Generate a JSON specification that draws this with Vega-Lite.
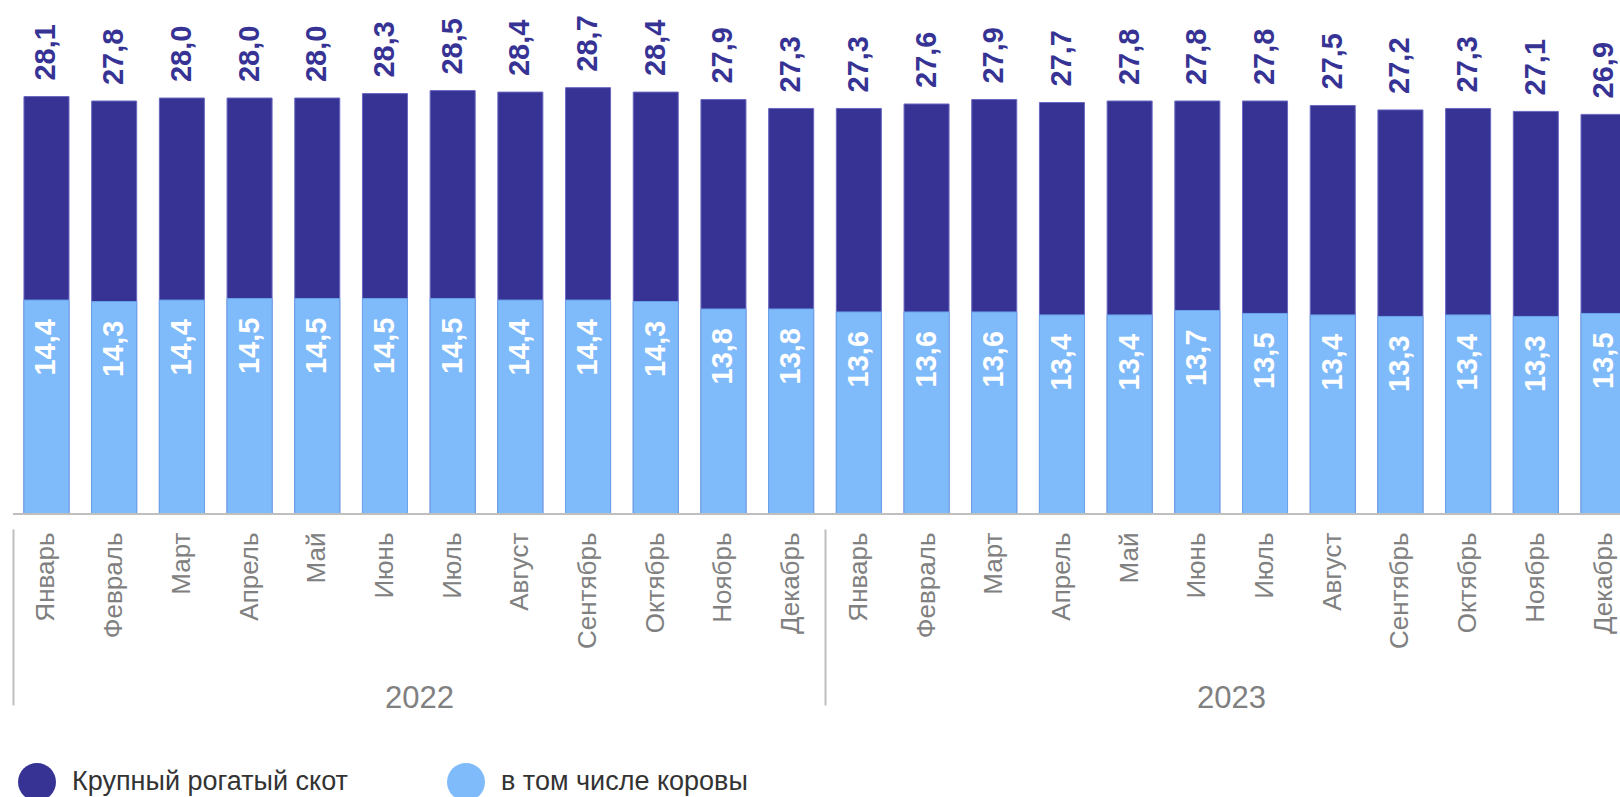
{
  "$schema": "https://vega.github.io/schema/vega-lite/v6.json",
  "width": 1607,
  "height": 514,
  "autosize": {"type": "none"},
  "padding": {"left": 13, "top": 0, "right": 0, "bottom": 283},
  "config": {
    "view": {"stroke": null},
    "font": "Liberation Sans",
    "locale": {"number": {"decimal": ",", "thousands": " ", "grouping": [3], "currency": ["", ""]}}
  },
  "data": {
    "values": [
      {"m": "2022-01", "total": 28.1, "cows": 14.4},
      {"m": "2022-02", "total": 27.8, "cows": 14.3},
      {"m": "2022-03", "total": 28.0, "cows": 14.4},
      {"m": "2022-04", "total": 28.0, "cows": 14.5},
      {"m": "2022-05", "total": 28.0, "cows": 14.5},
      {"m": "2022-06", "total": 28.3, "cows": 14.5},
      {"m": "2022-07", "total": 28.5, "cows": 14.5},
      {"m": "2022-08", "total": 28.4, "cows": 14.4},
      {"m": "2022-09", "total": 28.7, "cows": 14.4},
      {"m": "2022-10", "total": 28.4, "cows": 14.3},
      {"m": "2022-11", "total": 27.9, "cows": 13.8},
      {"m": "2022-12", "total": 27.3, "cows": 13.8},
      {"m": "2023-01", "total": 27.3, "cows": 13.6},
      {"m": "2023-02", "total": 27.6, "cows": 13.6},
      {"m": "2023-03", "total": 27.9, "cows": 13.6},
      {"m": "2023-04", "total": 27.7, "cows": 13.4},
      {"m": "2023-05", "total": 27.8, "cows": 13.4},
      {"m": "2023-06", "total": 27.8, "cows": 13.7},
      {"m": "2023-07", "total": 27.8, "cows": 13.5},
      {"m": "2023-08", "total": 27.5, "cows": 13.4},
      {"m": "2023-09", "total": 27.2, "cows": 13.3},
      {"m": "2023-10", "total": 27.3, "cows": 13.4},
      {"m": "2023-11", "total": 27.1, "cows": 13.3},
      {"m": "2023-12", "total": 26.9, "cows": 13.5}
    ]
  },
  "resolve": {"scale": {"x": "independent"}, "axis": {"x": "independent"}},
  "layer": [
    {
      "encoding": {
        "x": {
          "field": "m",
          "type": "ordinal",
          "sort": null,
          "scale": {"type": "band", "range": [0, 1624], "paddingInner": 0.335, "paddingOuter": 0.162},
          "axis": {
            "orient": "bottom",
            "title": null,
            "domain": false,
            "ticks": false,
            "labelAngle": 270,
            "labelAlign": "right",
            "labelBaseline": "middle",
            "labelPadding": 18,
            "labelFontSize": 26,
            "labelColor": "#808080",
            "labelOverlap": false,
            "labelExpr": "['Январь','Февраль','Март','Апрель','Май','Июнь','Июль','Август','Сентябрь','Октябрь','Ноябрь','Декабрь'][toNumber(substring(datum.label,5,7))-1]"
          }
        }
      },
      "layer": [
        {
          "transform": [{"fold": ["total", "cows"], "as": ["series", "value"]}],
          "mark": {"type": "bar", "strokeWidth": 1},
          "encoding": {
            "y": {"field": "value", "type": "quantitative", "stack": null, "scale": {"domain": [0, 34.6], "nice": false, "zero": true}, "axis": null},
            "color": {
              "field": "series",
              "type": "nominal",
              "scale": {"domain": ["total", "cows"], "range": ["#363395", "#7FBAFA"]},
              "legend": {
                "orient": "none",
                "legendX": 5,
                "legendY": 763,
                "direction": "horizontal",
                "title": null,
                "symbolType": "circle",
                "symbolSize": 1444,
                "symbolStrokeWidth": 0,
                "symbolOpacity": 1,
                "labelFontSize": 27,
                "labelColor": "#333333",
                "labelLimit": 600,
                "labelOffset": 16,
                "columnPadding": 99,
                "labelExpr": "datum.label == 'total' ? 'Крупный рогатый скот' : 'в том числе коровы'"
              }
            },
            "stroke": {
              "field": "series",
              "type": "nominal",
              "scale": {"domain": ["total", "cows"], "range": ["#6968c0", "#6aa4ec"]},
              "legend": null
            }
          }
        },
        {
          "mark": {"type": "text", "angle": 270, "align": "left", "baseline": "middle", "dx": 16, "fontSize": 29, "fontWeight": "bold", "color": "#363395"},
          "encoding": {
            "y": {"field": "total", "type": "quantitative"},
            "text": {"field": "total", "type": "quantitative", "format": ".1f"}
          }
        },
        {
          "mark": {"type": "text", "angle": 270, "align": "right", "baseline": "middle", "dx": -19, "fontSize": 29, "fontWeight": "bold", "color": "#FFFFFF"},
          "encoding": {
            "y": {"field": "cows", "type": "quantitative"},
            "text": {"field": "cows", "type": "quantitative", "format": ".1f"}
          }
        }
      ]
    },
    {
      "data": {"values": [{"year": "2022"}, {"year": "2023"}]},
      "mark": {"type": "bar", "fillOpacity": 0, "stroke": "#BFBFBF", "strokeWidth": 2},
      "encoding": {
        "x": {
          "field": "year",
          "type": "ordinal",
          "scale": {"type": "band", "range": [0, 1624], "paddingInner": 0, "paddingOuter": 0},
          "axis": {
            "orient": "bottom",
            "offset": 15,
            "title": null,
            "domain": false,
            "ticks": true,
            "tickBand": "extent",
            "tickSize": 176,
            "tickColor": "#BFBFBF",
            "tickWidth": 2,
            "labelAngle": 0,
            "labelFontSize": 31,
            "labelColor": "#808080",
            "labelBaseline": "top",
            "labelPadding": -22
          }
        },
        "y": {"datum": 0, "type": "quantitative"},
        "y2": {"datum": 0}
      }
    }
  ]
}
